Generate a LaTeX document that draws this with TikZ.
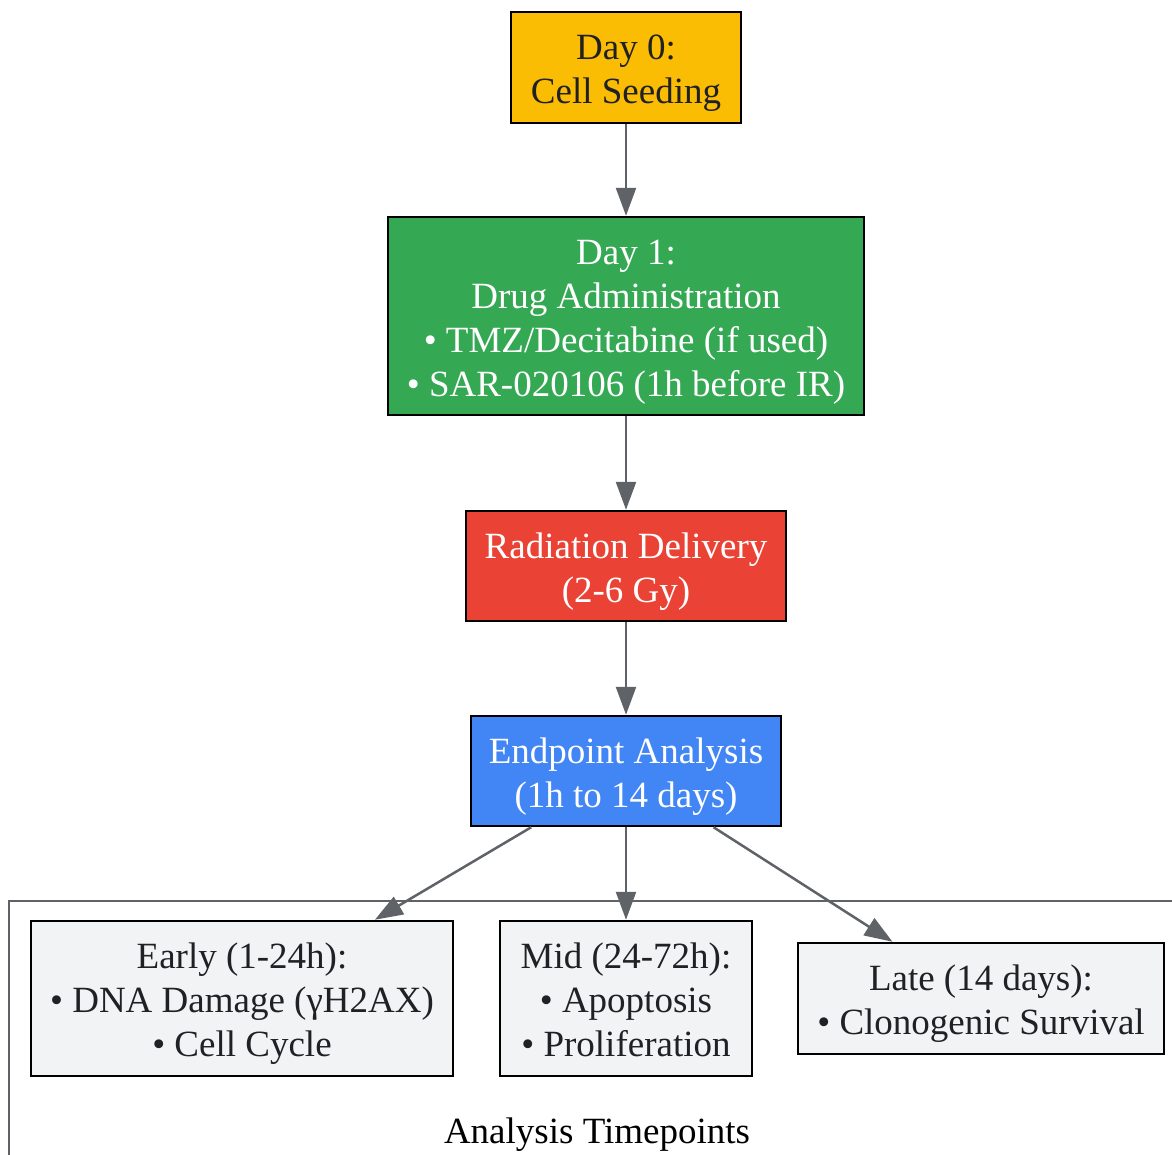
\documentclass[tikz,border=0pt]{standalone}
\usepackage{fontspec}
\setmainfont{Liberation Serif}
\usetikzlibrary{arrows.meta}
\definecolor{gyellow}{HTML}{FBBC04}
\definecolor{ggreen}{HTML}{34A853}
\definecolor{gred}{HTML}{EA4335}
\definecolor{gblue}{HTML}{4285F4}
\definecolor{glight}{HTML}{F1F3F4}
\definecolor{gedge}{HTML}{5F6368}
\definecolor{gtext}{HTML}{202124}
\newcommand\tstrut{\rule{0pt}{36pt}}
\newcommand\bstrut{\rule[-8pt]{0pt}{8pt}}
\tikzset{
  box/.style={draw=black, line width=2.5pt, align=center, inner sep=0pt,
    font=\fontsize{37}{44}\selectfont},
  conn/.style={draw=gedge, line width=2.5pt, -{Triangle[length=28pt,width=20pt]}},
}
\begin{document}
\begin{tikzpicture}[x=1pt,y=-1pt]
\useasboundingbox (0,0) rectangle (1172,1154);
\fill[white] (0,0) rectangle (1172,1154);
% cluster
\draw[gedge, line width=2.5pt] (9,1170) -- (9,901) -- (1190,901);
\node[font=\fontsize{37}{44}\selectfont, text=black] (clab) at (597,1135) {Analysis Timepoints};
% nodes
\node[box, fill=gyellow, text=gtext, minimum width=230pt, minimum height=111pt] (d0) at (626,67.5) {\tstrut Day 0:\\Cell Seeding\bstrut};
\node[box, fill=ggreen, text=white, minimum width=476pt, minimum height=198pt] (d1) at (626,316) {\tstrut Day 1:\\Drug Administration\\• TMZ/Decitabine (if used)\\• SAR-020106 (1h before IR)\bstrut};
\node[box, fill=gred, text=white, minimum width=320pt, minimum height=110pt] (rad) at (626,566) {\tstrut Radiation Delivery\\(2-6 Gy)\bstrut};
\node[box, fill=gblue, text=white, minimum width=310pt, minimum height=110pt] (endp) at (626,771) {\tstrut Endpoint Analysis\\(1h to 14 days)\bstrut};
\node[box, fill=glight, text=gtext, minimum width=422pt, minimum height=155pt] (early) at (242,998.5) {\tstrut Early (1-24h):\\• DNA Damage (γH2AX)\\• Cell Cycle\bstrut};
\node[box, fill=glight, text=gtext, minimum width=252pt, minimum height=155pt] (mid) at (626,998.5) {\tstrut Mid (24-72h):\\• Apoptosis\\• Proliferation\bstrut};
\node[box, fill=glight, text=gtext, minimum width=366pt, minimum height=111pt] (late) at (981,998.5) {\tstrut Late (14 days):\\• Clonogenic Survival\bstrut};
% connectors
\draw[conn] (d0) -- (d1);
\draw[conn] (d1) -- (rad);
\draw[conn] (rad) -- (endp);
\draw[conn] (endp) -- (early);
\draw[conn] (endp) -- (mid);
\draw[conn] (endp) -- (late);
\end{tikzpicture}
\end{document}
